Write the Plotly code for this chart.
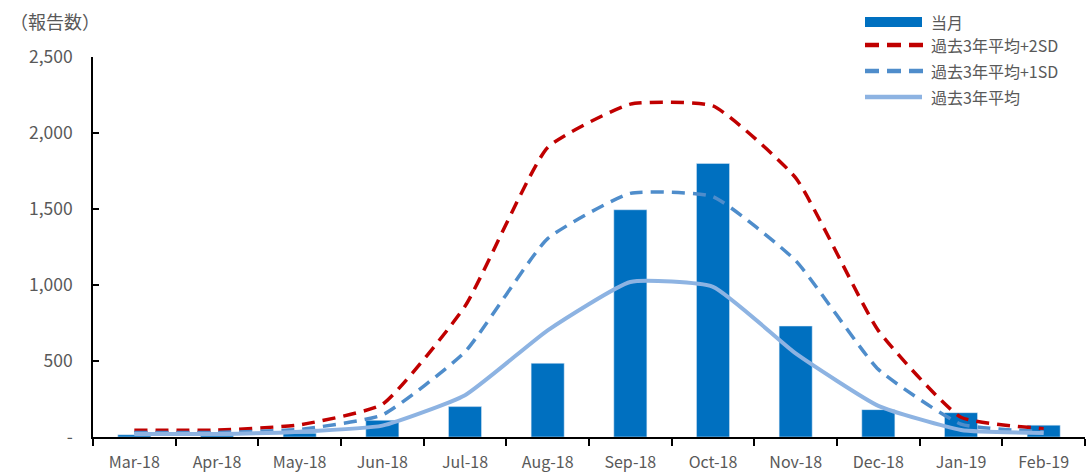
import plotly.graph_objects as go

# Monthly report counts, Mar-2018 to Feb-2019
months = ["Mar-18", "Apr-18", "May-18", "Jun-18", "Jul-18", "Aug-18",
          "Sep-18", "Oct-18", "Nov-18", "Dec-18", "Jan-19", "Feb-19"]
current = [15, 12, 25, 110, 200, 485, 1495, 1800, 730, 180, 160, 78]
avg_plus_2sd = [45, 45, 80, 215, 860, 1905, 2190, 2178, 1705, 700, 130, 55]
avg_plus_1sd = [30, 30, 50, 145, 560, 1305, 1603, 1581, 1160, 445, 85, 35]
avg_3yr = [20, 20, 35, 75, 275, 702, 1020, 988, 550, 205, 46, 26]

y_tickvals = [0, 500, 1000, 1500, 2000, 2500]
y_ticktext = ["-", "500", "1,000", "1,500", "2,000", "2,500"]

legend_names = ["当月", "過去3年平均+2SD", "過去3年平均+1SD", "過去3年平均"]

BAR = "#0070C0"
RED = "#C00000"
MID = "#4F8DCB"
LIGHT = "#8DB3E2"
TEXT = "#595959"
FONT = "Noto Sans CJK JP"
SMOOTH = 0.45

fig = go.Figure()
fig.add_trace(go.Bar(x=months, y=current, marker_color=BAR, name=legend_names[0]))
fig.add_trace(go.Scatter(x=months, y=avg_plus_2sd, mode="lines", name=legend_names[1],
                         line=dict(color=RED, width=3.5, dash="13px,8px",
                                   shape="spline", smoothing=SMOOTH)))
fig.add_trace(go.Scatter(x=months, y=avg_plus_1sd, mode="lines", name=legend_names[2],
                         line=dict(color=MID, width=3.5, dash="13px,8px",
                                   shape="spline", smoothing=SMOOTH)))
fig.add_trace(go.Scatter(x=months, y=avg_3yr, mode="lines", name=legend_names[3],
                         line=dict(color=LIGHT, width=4,
                                   shape="spline", smoothing=SMOOTH)))

# Hand-built legend in the upper right corner
W, H = 992.0, 380.0
def px(x):
    return (x - 93) / W
def py(y):
    return (437 - y) / H

shapes = []
annotations = []
rows_y = [22, 45, 71, 97]
x0, x1 = 865, 922
shapes.append(dict(type="rect", xref="paper", yref="paper",
                   x0=px(x0), x1=px(x1), y0=py(rows_y[0] + 5), y1=py(rows_y[0] - 5),
                   fillcolor=BAR, line=dict(width=0)))
for yy, color in [(rows_y[1], RED), (rows_y[2], MID)]:
    for k in range(3):
        a = x0 + k * 22
        shapes.append(dict(type="line", xref="paper", yref="paper",
                           x0=px(a), x1=px(a + 14), y0=py(yy), y1=py(yy),
                           line=dict(color=color, width=4.5)))
shapes.append(dict(type="line", xref="paper", yref="paper",
                   x0=px(x0), x1=px(x1), y0=py(rows_y[3]), y1=py(rows_y[3]),
                   line=dict(color=LIGHT, width=4.5)))
for yy, name in zip(rows_y, legend_names):
    annotations.append(dict(xref="paper", yref="paper", x=px(929), y=py(yy),
                            xanchor="left", yanchor="middle", showarrow=False,
                            text=name, font=dict(family=FONT, size=16, color=TEXT)))

annotations.append(dict(xref="paper", yref="paper", x=px(8), y=py(21),
                        xanchor="left", yanchor="middle", showarrow=False,
                        text="（報告数）", font=dict(family=FONT, size=18, color=TEXT)))

fig.update_layout(
    width=1088, height=475,
    margin=dict(l=93, r=3, t=57, b=38),
    plot_bgcolor="white", paper_bgcolor="white",
    showlegend=False, bargap=0.6,
    shapes=shapes, annotations=annotations,
    font=dict(family=FONT, color=TEXT, size=16),
)
fig.update_xaxes(showgrid=False, showline=True, linecolor="black", linewidth=1.5,
                 ticks="outside", tickson="boundaries", ticklen=7, tickcolor="black",
                 tickwidth=1.5, ticklabelstandoff=10,
                 tickfont=dict(family=FONT, size=16, color=TEXT))
fig.update_yaxes(range=[0, 2500], showgrid=False, showline=True, linecolor="black",
                 linewidth=1.5, ticks="inside", ticklen=6, tickcolor="black", tickwidth=1.5,
                 tickvals=y_tickvals, ticktext=y_ticktext, ticklabelstandoff=15,
                 zeroline=False, tickfont=dict(family=FONT, size=17.5, color=TEXT))

fig.write_html("out.html")
